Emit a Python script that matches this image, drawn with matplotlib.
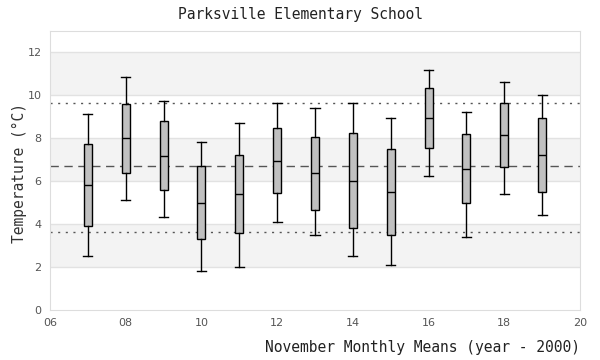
import matplotlib
matplotlib.use("Agg")
import matplotlib.pyplot as plt

# Box statistics, one entry per November (year - 2000)
years = [7, 8, 9, 10, 11, 12, 13, 14, 15, 16, 17, 18, 19]
whislo = [2.50, 5.11, 4.33, 1.81, 2.00, 4.09, 3.47, 2.50, 2.08, 6.22, 3.38, 5.38, 4.40]
q1 = [3.91, 6.37, 5.58, 3.31, 3.58, 5.44, 4.64, 3.80, 3.47, 7.52, 4.96, 6.64, 5.47]
med = [5.80, 7.99, 7.16, 4.98, 5.40, 6.94, 6.37, 5.99, 5.47, 8.92, 6.54, 8.12, 7.20]
q3 = [7.71, 9.58, 8.79, 6.70, 7.21, 8.47, 8.04, 8.22, 7.47, 10.31, 8.17, 9.61, 8.92]
whishi = [9.10, 10.83, 9.72, 7.81, 8.69, 9.63, 9.39, 9.63, 8.92, 11.19, 9.19, 10.59, 10.00]

mean_line = 6.68
lower_line = 3.61
upper_line = 9.61

fig = plt.figure(figsize=(6, 3.6), dpi=100)
ax = fig.add_axes([0.0833, 0.1389, 0.8834, 0.7761])

# alternating background bands
for lo in (2, 6, 10):
    ax.axhspan(lo, lo + 2, color="#f3f3f3", zorder=0, lw=0)
for yv in range(2, 13, 2):
    ax.axhline(yv, color="#e2e2e2", lw=1, zorder=1)

stats = []
for i in range(len(years)):
    stats.append(dict(whislo=whislo[i], q1=q1[i], med=med[i], q3=q3[i],
                      whishi=whishi[i], fliers=[]))

ax.bxp(stats, positions=years, widths=0.21, patch_artist=True,
       boxprops=dict(facecolor="#c0c0c0", edgecolor="black", lw=1),
       medianprops=dict(color="black", lw=1),
       whiskerprops=dict(color="black", lw=1),
       capprops=dict(color="black", lw=1),
       capwidths=0.24, manage_ticks=False, zorder=3)

ax.axhline(mean_line, color="#555555", lw=1, ls=(0, (6, 4)), zorder=2)
ax.axhline(lower_line, color="#555555", lw=1, ls=(0, (1.5, 4)), zorder=2)
ax.axhline(upper_line, color="#555555", lw=1, ls=(0, (1.5, 4)), zorder=2)

ax.set_xlim(6, 20)
ax.set_ylim(0, 13)
ax.set_xticks(range(6, 21, 2))
ax.set_xticklabels(["%02d" % v for v in range(6, 21, 2)])
ax.set_yticks(range(0, 13, 2))
ax.tick_params(length=0, labelsize=8, labelcolor="#555555", pad=6)
for s in ax.spines.values():
    s.set_color("#dddddd")

mono = "DejaVu Sans Mono"
fig.text(0.5, 0.96, "Parksville Elementary School", ha="center", va="center",
         family=mono, fontsize=10.5, color="#222222")
fig.text(0.032, 0.52, "Temperature (°C)", rotation=90, ha="center", va="center",
         family=mono, fontsize=10.5, color="#333333")
fig.text(0.9667, 0.035, "November Monthly Means (year - 2000)", ha="right", va="center",
         family=mono, fontsize=10.5, color="#222222")

fig.savefig("out.png", dpi=100)
